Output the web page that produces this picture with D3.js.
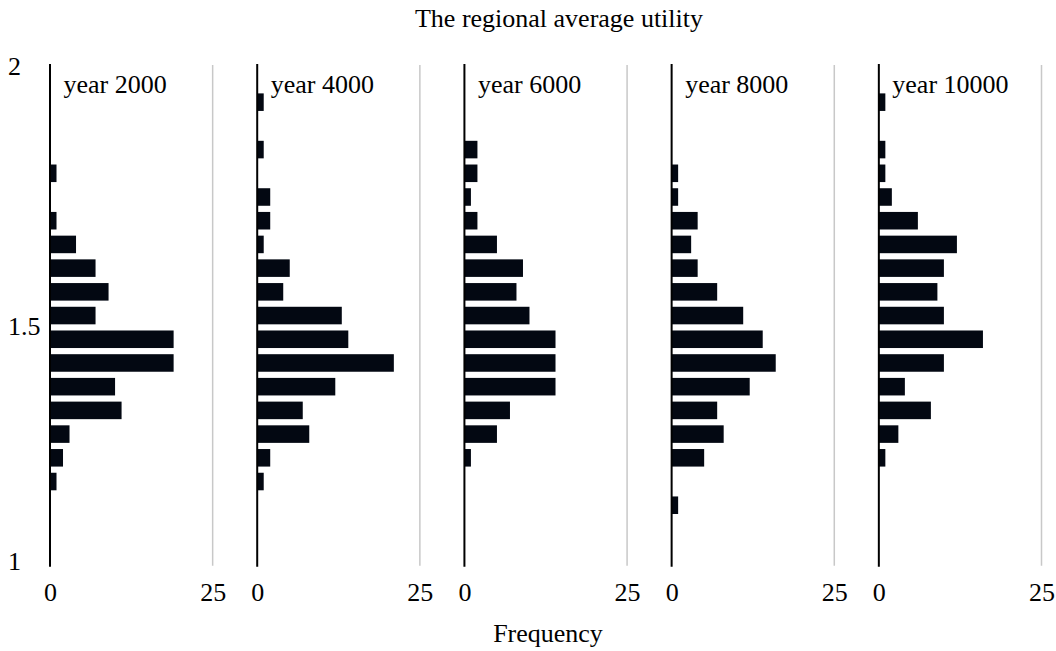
<!DOCTYPE html>
<html><head><meta charset="utf-8">
<script src="https://cdn.jsdelivr.net/npm/d3@7"></script>
<style>
body{margin:0;background:#fff}
text{font-family:"Liberation Serif","Times New Roman",serif;fill:#000}
</style>
</head><body><svg id="c" width="1056" height="651"></svg>
<script>
// ---- data ----
const years = ["year 2000","year 4000","year 6000","year 8000","year 10000"];
const bins = ["1.00","1.05","1.10","1.15","1.20","1.25","1.30","1.35","1.40","1.45","1.50",
              "1.55","1.60","1.65","1.70","1.75","1.80","1.85","1.90","1.95","2.00"];
const freq2000  = [0,0,0,1,2,3,11,10,19,19,7,9,7,4,1,0,1,0,0,0,0];
const freq4000  = [0,0,0,1,2,8,7,12,21,14,13,4,5,1,2,2,0,1,0,1,0];
const freq6000  = [0,0,0,0,1,5,7,14,14,14,10,8,9,5,2,1,2,2,0,0,0];
const freq8000  = [0,0,1,0,5,8,7,12,16,14,11,7,4,3,4,1,1,0,0,0,0];
const freq10000 = [0,0,0,0,1,3,8,4,10,16,10,9,10,12,6,2,1,1,0,1,0];
const yTickValues = [1, 1.5, 2];
const xTickValues = [0, 25];
const title = "The regional average utility";
const xTitle = "Frequency";

const series = [freq2000, freq4000, freq6000, freq8000, freq10000];

// ---- layout ----
const svg = d3.select("#c");
const panel = d3.scaleBand().domain(years).range([50, 1041.5]).paddingInner(0.215);
const y = d3.scaleBand().domain(bins).range([564.5, 66.6]).paddingInner(0.26).paddingOuter(0.13);
const yLab = d3.scaleLinear().domain(yTickValues).range([561, 326, 66]);
const lineTop = 64, lineBottom = 566.7;
const barColor = "#030812";

svg.append("text").attr("x", 559).attr("y", 26.5).attr("text-anchor", "middle")
   .style("font-size", "26px").text(title);
svg.append("text").attr("x", 548).attr("y", 642).attr("text-anchor", "middle")
   .style("font-size", "26px").text(xTitle);

// y tick labels
svg.append("g").selectAll("text").data(yTickValues).join("text")
   .attr("x", 8).attr("y", d => yLab(d)).attr("dy", "0.33em")
   .style("font-size", "26px").text(d => d3.format("")(d));

years.forEach((yr, i) => {
  const x0 = panel(yr);
  const x = d3.scaleLinear().domain([0, 25]).range([x0, x0 + panel.bandwidth()]);
  const g = svg.append("g");
  // gridline at 25
  g.append("line").attr("x1", x(25)).attr("x2", x(25)).attr("y1", lineTop + 1).attr("y2", lineBottom - 1)
   .attr("stroke", "#c8c8c8").attr("stroke-width", 1.5);
  // bars
  g.selectAll("rect").data(series[i].map((v, k) => ({bin: bins[k], v}))).join("rect")
   .filter(d => d.v > 0)
   .attr("x", x(0)).attr("y", d => y(d.bin))
   .attr("width", d => x(d.v) - x(0)).attr("height", y.bandwidth())
   .attr("fill", barColor);
  // axis line
  g.append("line").attr("x1", x(0)).attr("x2", x(0)).attr("y1", lineTop).attr("y2", lineBottom)
   .attr("stroke", "#000").attr("stroke-width", 2);
  // x tick labels
  const ax = g.append("g").attr("transform", "translate(0,601)")
   .call(d3.axisBottom(x).tickValues(xTickValues).tickSize(0).tickPadding(0));
  ax.select(".domain").remove();
  ax.selectAll("text").attr("y", 0).attr("dy", 0)
    .style("font-family", "'Liberation Serif','Times New Roman',serif")
    .style("font-size", "26px").attr("fill", "#000");
  // panel label
  g.append("text").attr("x", x0 + 13.5).attr("y", 93)
   .style("font-size", "26px").text(yr);
});
</script></body></html>
